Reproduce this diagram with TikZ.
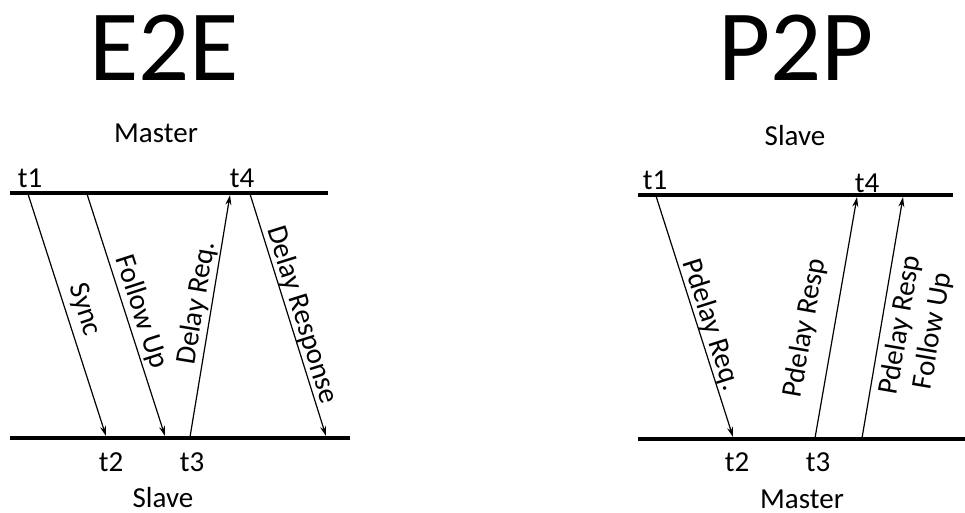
\documentclass[tikz,border=0pt]{standalone}
\usepackage{fontspec}
\setmainfont{Carlito}
\usetikzlibrary{arrows.meta}
\begin{document}
\begin{tikzpicture}[x=1pt,y=-1pt,
  timeline/.style={line width=4pt},
  msg/.style={line width=1.2pt,-{Stealth[length=10pt,width=6pt]}},
  lbl/.style={font=\fontsize{29}{33}\selectfont, inner sep=1pt},
  ttl/.style={font=\fontsize{101}{110}\selectfont, inner sep=0pt}]
\useasboundingbox (0,0) rectangle (965,513);

% ---------- E2E ----------
\node[ttl] (e2e) at (164,48) {E2E};
\node[lbl] (mL) at (156,133) {Master};
\node[lbl,inner sep=0pt] (sL) at (163,498) {Slave};
\coordinate (LtopA) at (10,193);
\coordinate (LtopB) at (328,193);
\coordinate (LbotA) at (10,438);
\coordinate (LbotB) at (350,438);
\draw[timeline] (LtopA) -- (LtopB);
\draw[timeline] (LbotA) -- (LbotB);

\node[lbl] (Lt1) at (30,178) {t1};
\node[lbl] (Lt4) at (242,178) {t4};
\node[lbl] (Lt2) at (111,462) {t2};
\node[lbl] (Lt3) at (192,462) {t3};

\coordinate (syncS) at (28,194);
\coordinate (syncE) at (106,436);
\coordinate (fuS) at (87,194);
\coordinate (fuE) at (165,436);
\coordinate (drS) at (190,437);
\coordinate (drE) at (230,195);
\coordinate (dpS) at (250,194);
\coordinate (dpE) at (326,436);

\draw[msg] (syncS) -- (syncE);
\draw[msg] (fuS) -- (fuE);
\draw[msg] (drS) -- (drE);
\draw[msg] (dpS) -- (dpE);
\node[lbl,rotate=-72.1] (lsync) at (84,310) {Sync};
\node[lbl,rotate=-72.1] (lfu) at (141,312) {Follow Up};
\node[lbl,rotate=80.6] (ldr) at (197,303) {Delay Req.};
\node[lbl,rotate=-72.6] (ldp) at (302,315) {Delay Response};

% ---------- P2P ----------
\node[ttl] (p2p) at (796,48) {P2P};
\node[lbl] (sR) at (795,136) {Slave};
\node[lbl,inner sep=0pt] (mR) at (802,499) {Master};
\coordinate (RtopA) at (638,195);
\coordinate (RtopB) at (953,195);
\coordinate (RbotA) at (638,439);
\coordinate (RbotB) at (965,439);
\draw[timeline] (RtopA) -- (RtopB);
\draw[timeline] (RbotA) -- (RbotB);

\node[lbl] (Rt1) at (655,180) {t1};
\node[lbl] (Rt4) at (867,183) {t4};
\node[lbl] (Rt2) at (737,462) {t2};
\node[lbl] (Rt3) at (818,462) {t3};

\coordinate (preqS) at (656,196);
\coordinate (preqE) at (733,437);
\coordinate (prS) at (815,438);
\coordinate (prE) at (857,197);
\coordinate (pfS) at (862,438);
\coordinate (pfE) at (903,197);

\draw[msg] (preqS) -- (preqE);
\draw[msg] (prS) -- (prE);
\draw[msg] (pfS) -- (pfE);
\node[lbl,rotate=-72.3] (lpreq) at (711,325) {Pdelay Req.};
\node[lbl,rotate=80.1] (lpr) at (805,328) {Pdelay Resp};
\node[lbl,rotate=80.3,align=center] (lpf) at (917,328) {Pdelay Resp\\Follow Up};
\end{tikzpicture}
\end{document}
